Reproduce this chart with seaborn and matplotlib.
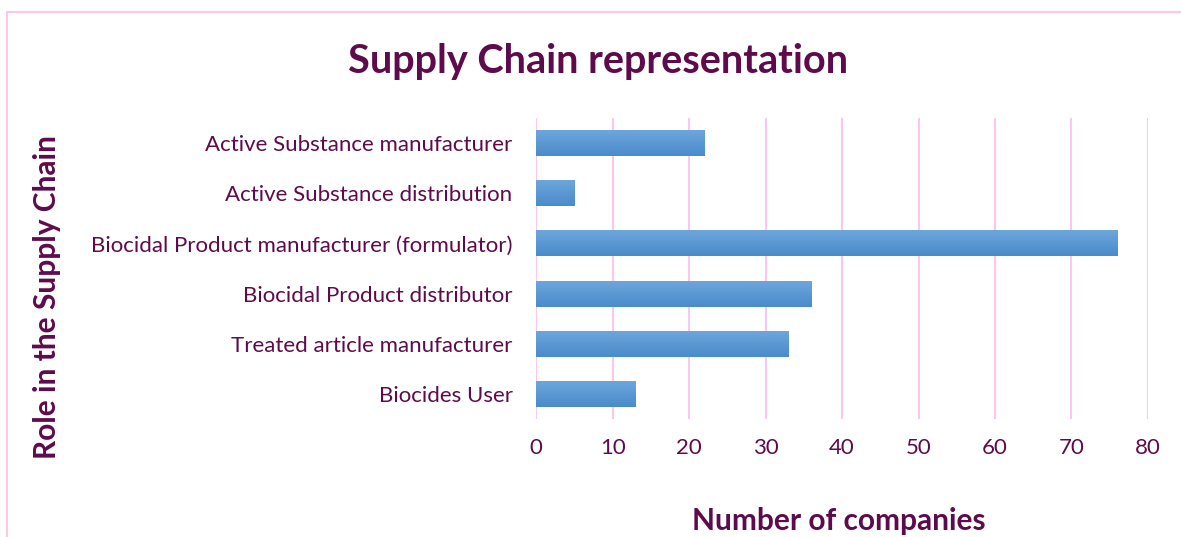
import matplotlib
matplotlib.use("Agg")
import matplotlib.pyplot as plt
import numpy as np
import pandas as pd
import seaborn as sns
from matplotlib.colors import LinearSegmentedColormap
from matplotlib.patches import Rectangle

roles = [
    "Active Substance manufacturer",
    "Active Substance distribution",
    "Biocidal Product manufacturer (formulator)",
    "Biocidal Product distributor",
    "Treated article manufacturer",
    "Biocides User",
]
companies = [22, 5, 76, 36, 33, 13]
x_ticks = [0, 10, 20, 30, 40, 50, 60, 70, 80]

df = pd.DataFrame({"Role": roles, "Companies": companies})

sns.set_style("white")
plt.rcParams["font.family"] = ["Lato", "DejaVu Sans"]

purple = "#5e0b4b"
pink = "#f9c8ec"

fig = plt.figure(figsize=(11.81, 5.37), dpi=100)
ax = fig.add_axes([0.454, 0.22, 0.518, 0.56])

sns.barplot(data=df, x="Companies", y="Role", orient="h", color="#5b9bd5",
            width=0.52, ax=ax)

# gradient fill on bars
grad = LinearSegmentedColormap.from_list("g", ["#6ea7dc", "#4a8bcb"])
for p in ax.patches:
    x0, y0 = p.get_x(), p.get_y()
    w, h = p.get_width(), p.get_height()
    im = ax.imshow(np.linspace(0, 1, 50).reshape(-1, 1), cmap=grad, aspect="auto",
                   extent=[x0, x0 + w, y0 + h, y0], zorder=3)
    im.set_clip_path(p)
    p.set_edgecolor("none")

ax.set_xlim(0, 80)
ax.set_ylim(5.5, -0.5)
ax.set_xticks(x_ticks)
ax.grid(axis="x", color=pink, linewidth=1.5)
ax.set_axisbelow(True)
for s in ax.spines.values():
    s.set_visible(False)
ax.tick_params(axis="both", length=0, labelsize=16, labelcolor=purple)
ax.tick_params(axis="x", pad=14)
ax.tick_params(axis="y", pad=17)
ax.set_xlabel("")
ax.set_ylabel("")

fig.text(0.506, 0.885, "Supply Chain representation", ha="center", va="center",
         fontsize=28.5, fontweight="bold", color=purple)
fig.text(0.04, 0.447, "Role in the Supply Chain", ha="center", va="center",
         rotation=90, fontsize=21.5, fontweight="bold", color=purple)
fig.text(0.71, 0.03, "Number of companies", ha="center", va="center",
         fontsize=21.5, fontweight="bold", color=purple)

# chart frame
fig.patches.append(Rectangle((7 / 1181, -0.1), 1.2, 1 - 12 / 537 + 0.1,
                             transform=fig.transFigure, fill=False,
                             edgecolor=pink, linewidth=1.5))

fig.savefig("out.png", dpi=100)
